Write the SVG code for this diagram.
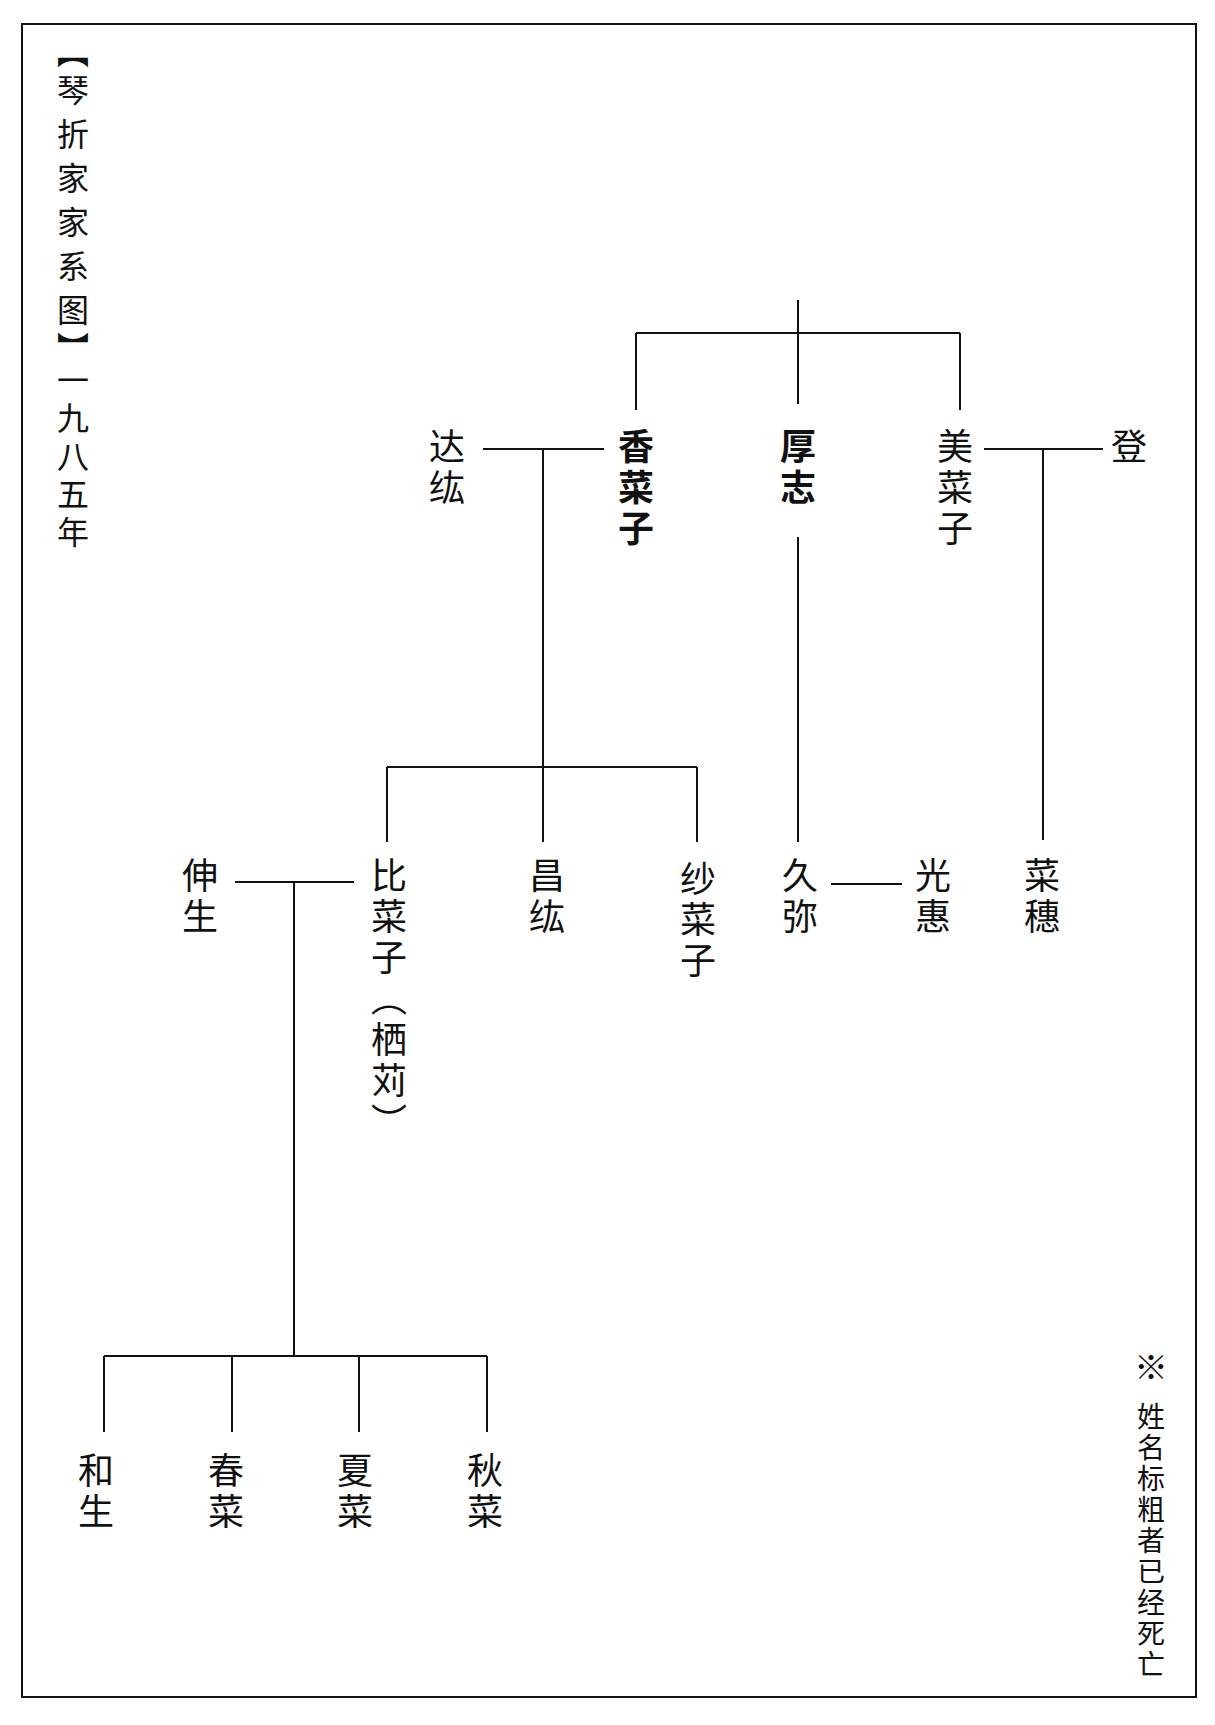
<svg xmlns="http://www.w3.org/2000/svg" width="1215" height="1725" viewBox="0 0 1215 1725">
<style>
.v{font-family:"Noto Sans CJK SC","Noto Sans CJK JP",sans-serif;writing-mode:vertical-rl;font-size:36px;letter-spacing:5px;fill:#111;}
.b{font-weight:bold;}
.t{font-size:32px;letter-spacing:12px;}
.n{font-size:28px;letter-spacing:3px;}
.c line{stroke:#111;stroke-width:2;}
</style>
<rect x="22" y="24" width="1174" height="1673" fill="#fff" stroke="#111" stroke-width="2"/>
<g id="title"><text class="v t" x="73" y="36"><tspan style="letter-spacing:6px">【</tspan>琴折家家系<tspan style="letter-spacing:6px">图</tspan>】</text><text class="v t" x="73" y="364" style="letter-spacing:6px">一九八五年</text></g>
<g id="note"><text class="v" x="1151" y="1350" style="font-size:34px">※</text><text class="v n" x="1151" y="1402">姓名标粗者已经死亡</text></g>
<g class="c" id="connectors">
<line x1="798" y1="300" x2="798" y2="404"/>
<line x1="636" y1="333" x2="960" y2="333"/>
<line x1="636" y1="333" x2="636" y2="410"/>
<line x1="960" y1="333" x2="960" y2="410"/>
<line x1="483" y1="449" x2="604" y2="449"/>
<line x1="543" y1="449" x2="543" y2="842"/>
<line x1="984" y1="449" x2="1103" y2="449"/>
<line x1="1043" y1="449" x2="1043" y2="840"/>
<line x1="798" y1="537" x2="798" y2="842"/>
<line x1="387" y1="767" x2="697" y2="767"/>
<line x1="387" y1="767" x2="387" y2="842"/>
<line x1="697" y1="767" x2="697" y2="842"/>
<line x1="831" y1="884" x2="902" y2="884"/>
<line x1="235" y1="882" x2="354" y2="882"/>
<line x1="294" y1="882" x2="294" y2="1356"/>
<line x1="104" y1="1356" x2="487" y2="1356"/>
<line x1="104" y1="1356" x2="104" y2="1432"/>
<line x1="232" y1="1356" x2="232" y2="1432"/>
<line x1="359" y1="1356" x2="359" y2="1432"/>
<line x1="487" y1="1356" x2="487" y2="1432"/>
</g>
<g id="n-tatsuhiro"><text class="v" x="447" y="428">达纮</text></g>
<g id="n-kanako"><text class="v b" x="636" y="428">香菜子</text></g>
<g id="n-atsushi"><text class="v b" x="798" y="428">厚志</text></g>
<g id="n-minako"><text class="v" x="955" y="428">美菜子</text></g>
<g id="n-noboru"><text class="v" x="1129" y="428">登</text></g>
<g id="n-shinsei"><text class="v" x="200" y="857">伸生</text></g>
<g id="n-hinako"><text class="v" x="389" y="857">比菜子（栖苅）</text></g>
<g id="n-masahiro"><text class="v" x="547" y="857">昌纮</text></g>
<g id="n-sanako"><text class="v" x="698" y="860">纱菜子</text></g>
<g id="n-hisaya"><text class="v" x="800" y="857">久弥</text></g>
<g id="n-mitsue"><text class="v" x="933" y="857">光惠</text></g>
<g id="n-naho"><text class="v" x="1042" y="857">菜穗</text></g>
<g id="n-kazuo"><text class="v" x="96" y="1452">和生</text></g>
<g id="n-haruna"><text class="v" x="226" y="1452">春菜</text></g>
<g id="n-natsuna"><text class="v" x="355" y="1452">夏菜</text></g>
<g id="n-akina"><text class="v" x="485" y="1452">秋菜</text></g>
</svg>
